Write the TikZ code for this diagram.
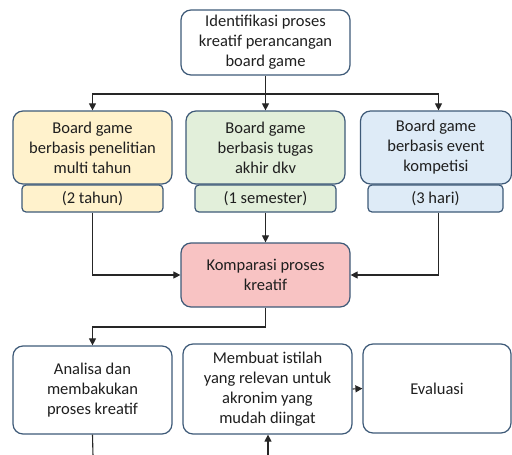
\documentclass[tikz,border=0pt]{standalone}
\usepackage{fontspec}
\setmainfont{Carlito}
\usetikzlibrary{arrows.meta}
\definecolor{bordc}{HTML}{3E5A78}
\definecolor{yel}{HTML}{FFF2CC}
\definecolor{grn}{HTML}{E2EFDA}
\definecolor{blu}{HTML}{DEEBF7}
\definecolor{pnk}{HTML}{F8C3C3}
\begin{document}
\begin{tikzpicture}[x=1pt,y=-1pt,
  box/.style={draw=bordc,line width=1.2pt,rounded corners=10pt,align=center,
    font=\fontsize{16.5}{20}\selectfont,inner sep=0pt,text=black!88},
  sub/.style={draw=bordc,line width=1.2pt,rounded corners=4pt,align=center,
    font=\fontsize{16.5}{20}\selectfont,inner sep=0pt,text=black!88},
  conn/.style={line width=1.1pt,black!85},
  arr/.style={conn,-{Triangle[length=7pt,width=7pt]}}]
\useasboundingbox (0,0) rectangle (512,455);
\node[box,fill=white,minimum width=169pt,minimum height=65pt] (top) at (265.5,42.5)
  {Identifikasi proses\\kreatif perancangan\\board game};
\node[box,fill=yel,minimum width=159pt,minimum height=73pt] (b1) at (92.5,147.5)
  {Board game\\berbasis penelitian\\multi tahun};
\node[box,fill=grn,minimum width=159pt,minimum height=73pt] (b2) at (265.5,147.5)
  {Board game\\berbasis tugas\\akhir dkv};
\node[box,fill=blu,minimum width=151pt,minimum height=73pt] (b3) at (436,147.5)
  {Board game\\berbasis event\\kompetisi};
\node[sub,fill=yel,minimum width=141pt,minimum height=27pt] (s1) at (92.5,198.5) {(2 tahun)};
\node[sub,fill=grn,minimum width=141pt,minimum height=27pt] (s2) at (265.5,198.5) {(1 semester)};
\node[sub,fill=blu,minimum width=135pt,minimum height=27pt] (s3) at (435.5,198.5) {(3 hari)};
\node[box,fill=pnk,minimum width=169pt,minimum height=64pt] (komp) at (265.5,275)
  {Komparasi proses\\kreatif};
\node[box,fill=white,minimum width=159pt,minimum height=88pt] (ana) at (92.5,390)
  {Analisa dan\\membakukan\\proses kreatif};
\node[box,fill=white,minimum width=169pt,minimum height=90pt] (mem) at (267.5,389)
  {Membuat istilah\\yang relevan untuk\\akronim yang\\mudah diingat};
\node[box,fill=white,minimum width=148pt,minimum height=89pt] (eva) at (437,388.5)
  {Evaluasi};
% connectors
\coordinate (j1) at (265.5,94);
\draw[conn] (top.south) -- (j1);
\draw[arr] (j1) -| (92.5,0 |- b1.north);
\draw[arr] (j1) -- (b2.north);
\draw[arr] (j1) -| (438.5,0 |- b3.north);
\draw[arr] (s1.south) |- (komp.west);
\draw[arr] (s2.south) -- (komp.north);
\draw[arr] (s3.south -| 438.5,0) |- (komp.east);
\coordinate (j2) at (265.5,327);
\draw[conn] (komp.south) -- (j2);
\draw[arr] (j2) -| (ana.north);
\draw[arr] (mem.east) -- (eva.west);
\coordinate (e1) at (93,456);
\coordinate (e2) at (268,456);
\draw[conn] (ana.south) -- (e1);
\draw[arr] (e2) -- (mem.south -| e2);
\end{tikzpicture}
\end{document}
